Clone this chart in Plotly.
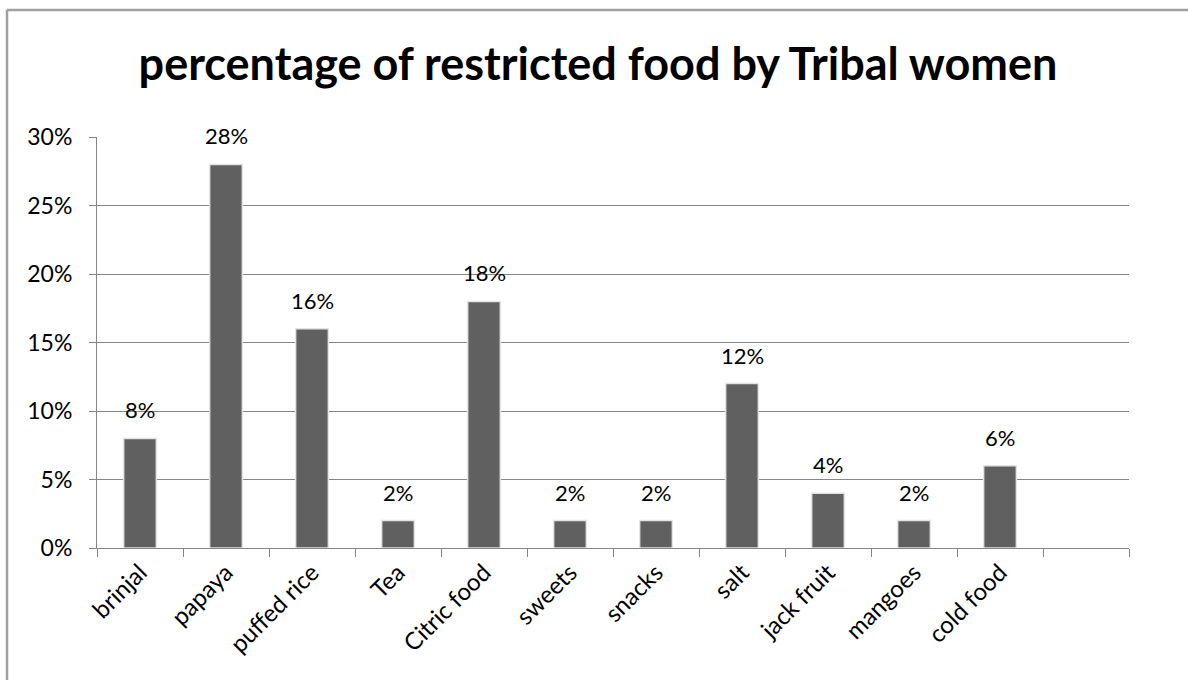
import plotly.graph_objects as go

categories = ["brinjal", "papaya", "puffed rice", "Tea", "Citric food", "sweets",
              "snacks", "salt", "jack fruit", "mangoes", "cold food", " "]
values = [0.08, 0.28, 0.16, 0.02, 0.18, 0.02, 0.02, 0.12, 0.04, 0.02, 0.06, None]
y_ticks = [0, 0.05, 0.10, 0.15, 0.20, 0.25, 0.30]
title_text = "percentage of restricted food by Tribal women"

W, H = 1188, 680
L, R, T, B = 97, 59, 137, 132
pw, ph = W - L - R, H - T - B
grid = "#868686"

fig = go.Figure()
fig.add_trace(go.Bar(
    x=categories, y=values,
    marker=dict(color="#606060", line=dict(color="#e4e4e4", width=1.5)),
    width=0.38,
    hoverinfo="skip",
))

for c, v in zip(categories, values):
    if v is None:
        continue
    fig.add_annotation(x=c, y=v, text=f"{v*100:.0f}%", showarrow=False,
                       yanchor="bottom", yshift=13,
                       font=dict(family="Lato", size=22, color="#000000"))

sx = lambda px: (px - L) / pw
sy = lambda py: (H - B - py) / ph
fig.add_shape(type="line", xref="paper", yref="paper",
              x0=sx(7), x1=sx(1200), y0=sy(10), y1=sy(10),
              line=dict(color="#a0a0a0", width=2.5))
fig.add_shape(type="line", xref="paper", yref="paper",
              x0=sx(7), x1=sx(7), y0=sy(10), y1=sy(700),
              line=dict(color="#a0a0a0", width=2.5))

fig.update_layout(
    width=W, height=H,
    margin=dict(l=L, r=R, t=T, b=B),
    paper_bgcolor="white", plot_bgcolor="white",
    showlegend=False,
    title=dict(text=f"<b>{title_text}</b>", xref="container", yref="container",
               x=598 / W, xanchor="center", y=1 - 64 / H, yanchor="middle",
               font=dict(family="Lato", size=45, color="#000000")),
    xaxis=dict(type="category", range=[-0.5, len(categories) - 0.5],
               tickson="boundaries", ticks="outside", ticklen=8, tickcolor=grid,
               showline=True, linecolor=grid, linewidth=1, showgrid=False,
               tickangle=-45, tickfont=dict(family="Lato", size=24, color="#000000")),
    yaxis=dict(range=[0, 0.30], tickvals=y_ticks, tickformat=".0%",
               ticks="outside", ticklen=7, tickcolor=grid,
               showline=True, linecolor=grid, linewidth=1,
               showgrid=True, gridcolor=grid, gridwidth=1, zeroline=False,
               ticklabelstandoff=12,
               tickfont=dict(family="Lato", size=23, color="#000000")),
)

fig.write_html("out.html")
